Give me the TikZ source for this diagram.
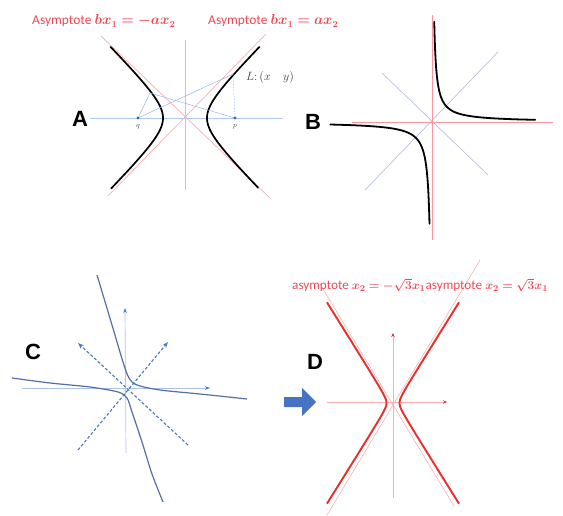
\documentclass[tikz,border=0pt]{standalone}
\usepackage{fontspec}
\usepackage{amsmath,bm}
\setsansfont{Carlito}
\newfontfamily\labfont{Liberation Sans}
\usetikzlibrary{arrows.meta}
\definecolor{redtxt}{RGB}{238,74,86}
\definecolor{asyA}{RGB}{248,175,182}
\definecolor{axA}{RGB}{175,200,238}
\definecolor{conA}{RGB}{150,182,228}
\definecolor{dotA}{RGB}{60,100,180}
\definecolor{axB}{RGB}{250,150,160}
\definecolor{diagB}{RGB}{182,192,232}
\definecolor{curC}{RGB}{85,110,165}
\definecolor{axC}{RGB}{172,196,236}
\definecolor{dashC}{RGB}{75,120,200}
\definecolor{redD}{RGB}{235,45,45}
\definecolor{pinkD}{RGB}{250,175,175}
\definecolor{arrowblue}{RGB}{70,115,195}
\tikzset{
  panellab/.style={font=\labfont\bfseries\fontsize{22}{24}\selectfont, inner sep=0pt},
  asylab/.style={text=redtxt, font=\sffamily\fontsize{13.5}{15}\selectfont, inner sep=0pt, anchor=base west},
  hyp/.style={line width=1.7pt, line cap=round},
  thin/.style={line width=0.7pt},
}
\begin{document}
\begin{tikzpicture}[x=1pt,y=-1pt]
\useasboundingbox (0,0) rectangle (563,516);
% ---------------- Panel A ----------------
\draw[axA, thin] (185,40) -- (185,190);
\draw[axA, thin] (90,118) -- (283,118);
\draw[asyA, thin] (101,36) -- (270,198);
\draw[asyA, thin] (266,34) -- (108,196);
\draw[hyp] plot[domain=-1.88:1.89, samples=60] ({185-22*cosh(\x)},{118-22*sinh(\x)});
\draw[hyp] plot[domain=-1.87:1.89, samples=60] ({185+22*cosh(\x)},{118-22*sinh(\x)});
\coordinate (q) at (138,118);
\coordinate (p) at (235,118);
\coordinate (P1) at (150,93);
\coordinate (L) at (233,74);
\draw[conA, line width=0.5pt] (q) -- (P1) -- (p);
\draw[conA, line width=0.5pt] (q) -- (L);
\draw[conA, line width=0.5pt, dashed, dash pattern=on 1.5pt off 1.5pt] (p) -- (L);
\fill[dotA] (q) circle (1.6);
\fill[dotA] (p) circle (1.6);
\node[font=\fontsize{7}{8}\selectfont, text=black!70] (qlab) at (138,127) {$q$};
\node[font=\fontsize{7}{8}\selectfont, text=black!70] (plab) at (235,127) {$p$};
\node[anchor=base west, inner sep=0pt, text=black!75, font=\fontsize{12.5}{14}\selectfont] (Llab) at (246,81) {$L{:}\,(x\quad y)$};
\node[panellab] (A) at (80,119) {A};
\node[asylab] (asy1) at (32,25) {Asymptote $\bm{bx_1=-ax_2}$};
\node[asylab] (asy2) at (208,25) {Asymptote $\bm{bx_1=ax_2}$};
% ---------------- Panel B ----------------
\draw[diagB, thin] (382,73) -- (488,175);
\draw[diagB, thin] (498,52) -- (365,190);
\draw[axB, thin] (432,15) -- (432,240);
\draw[axB, thin] (352,122) -- (553,122);
\draw[hyp, line width=1.8pt] plot[domain=-1.9:1.93, samples=70] ({432+15*exp(\x)},{122-15*exp(-\x)});
\draw[hyp, line width=1.8pt] plot[domain=-1.85:1.85, samples=70] ({432-16*exp(\x)},{122+16*exp(-\x)});
\node[panellab] (B) at (313,122) {B};
% ---------------- Panel C ----------------
\draw[axC, thin, -{Stealth[length=5pt,width=3.5pt,color=dashC]}] (126,453) -- (125,308);
\draw[axC, thin, -{Stealth[length=5pt,width=3.5pt,color=dashC]}] (22,388) -- (210,388);
\draw[dashC, line width=1.1pt, dash pattern=on 3pt off 2pt, -{Stealth[length=6pt,width=4.5pt]}] (78,450) -- (168,342);
\draw[dashC, line width=1.1pt, dash pattern=on 3pt off 2pt, -{Stealth[length=6pt,width=4.5pt]}] (188,445) -- (78,343);
\draw[curC, line width=1.2pt] plot[smooth, tension=0.5] coordinates {(97,275) (112,325) (123,362) (129,378) (137,385) (160,390) (200,394) (247,399)};
\draw[curC, line width=1.2pt] plot[smooth, tension=0.5] coordinates {(12,378) (50,383) (90,387) (118,392) (127,398) (132,412) (142,442) (152,474) (163,502)};
\node[panellab] (C) at (33,352) {C};
% ---------------- Panel D ----------------
\draw[pinkD, line width=0.6pt] (480,260) -- (327,515);
\draw[pinkD, line width=0.6pt] (320,284) -- (454,506);
\draw[pinkD, thin, -{Stealth[length=4pt,width=3.5pt,color=redD]}] (393,498) -- (393,333);
\draw[pinkD, thin, -{Stealth[length=4pt,width=3.5pt,color=redD]}] (327,402) -- (447,402);
\draw[redD, hyp, line width=1.9pt] plot[domain=-3.58:3.58, samples=90] ({390-3.5*cosh(\x)},{403-5.6*sinh(\x)});
\draw[redD, hyp, line width=1.9pt] plot[domain=-3.58:3.58, samples=90] ({396+3.5*cosh(\x)},{403-5.6*sinh(\x)});
\node[asylab, font=\sffamily\fontsize{13.2}{15}\selectfont] (asy3) at (292,290) {asymptote $\bm{x_2=-\sqrt{3}x_1}$asymptote $\bm{x_2=\sqrt{3}x_1}$};
\node[panellab] (D) at (315,362) {D};
\fill[arrowblue] (284,397) -- (302,397) -- (302,388) -- (316,402) -- (302,416) -- (302,407) -- (284,407) -- cycle;
\end{tikzpicture}
\end{document}
